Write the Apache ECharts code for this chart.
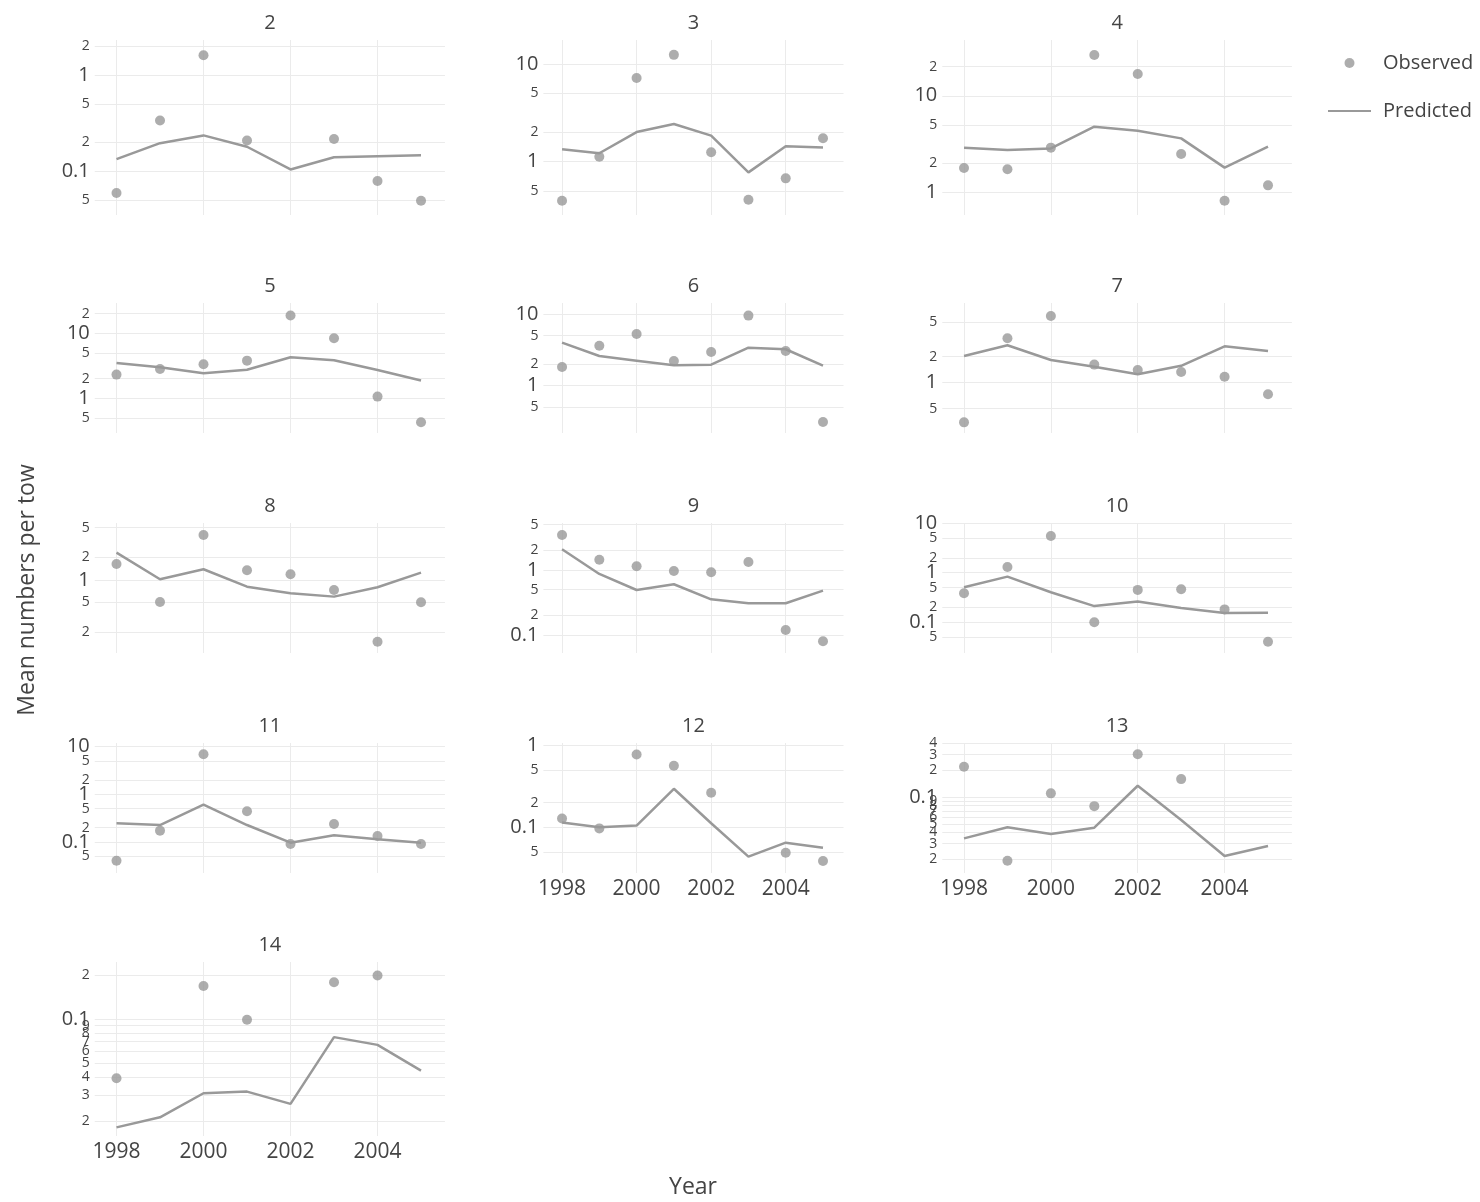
<!DOCTYPE html>
<html><head><meta charset="utf-8">
<script src="https://cdn.jsdelivr.net/npm/echarts@6/dist/echarts.min.js"></script>
<style>html,body{margin:0;padding:0;background:#fff}#c{width:1480px;height:1202px}</style>
</head><body><div id="c"></div>
<script>
// ---------------- DATA ----------------
const years = [1998, 1999, 2000, 2001, 2002, 2003, 2004, 2005];
const panelNames = ['2','3','4','5','6','7','8','9','10','11','12','13','14'];
const xTicks = [1998, 2000, 2002, 2004];

const obs2 = [0.059, 0.336, 1.60, 0.208, null, 0.216, 0.0787, 0.0492];
const pred2 = [0.133, 0.195, 0.235, 0.179, 0.104, 0.139, 0.143, 0.146];
const obs3 = [0.399, 1.125, 7.2, 12.4, 1.25, 0.408, 0.676, 1.735];
const pred3 = [1.34, 1.22, 2.01, 2.43, 1.85, 0.778, 1.44, 1.40];
const obs4 = [1.785, 1.73, 2.90, 26.4, 16.8, 2.49, 0.818, 1.18];
const pred4 = [2.90, 2.74, 2.85, 4.78, 4.34, 3.62, 1.80, 2.97];
const obs5 = [2.31, 2.82, 3.34, 3.79, 18.7, 8.38, 1.06, 0.427];
const pred5 = [3.49, 3.0, 2.43, 2.75, 4.27, 3.84, 2.72, 1.87];
const obs6 = [1.82, 3.61, 5.26, 2.21, 2.95, 9.47, 3.05, 0.312];
const pred6 = [3.98, 2.59, 2.23, 1.92, 1.96, 3.39, 3.22, 1.90];
const obs7 = [0.348, 3.27, 5.92, 1.62, 1.40, 1.33, 1.17, 0.734];
const pred7 = [2.04, 2.71, 1.83, 1.53, 1.25, 1.57, 2.64, 2.33];
const obs8 = [1.63, 0.509, 3.98, 1.35, 1.19, 0.736, 0.150, 0.504];
const pred8 = [2.31, 1.02, 1.39, 0.814, 0.665, 0.599, 0.80, 1.25];
const obs9 = [3.45, 1.44, 1.14, 0.965, 0.922, 1.33, 0.119, 0.080];
const pred9 = [2.08, 0.868, 0.492, 0.603, 0.354, 0.307, 0.307, 0.481];
const obs10 = [0.386, 1.30, 5.5, 0.100, 0.45, 0.464, 0.182, 0.0404];
const pred10 = [0.509, 0.832, 0.404, 0.212, 0.263, 0.194, 0.154, 0.156];
const obs11 = [0.0405, 0.173, 6.9, 0.44, 0.0908, 0.238, 0.134, 0.0908];
const pred11 = [0.246, 0.227, 0.605, 0.227, 0.0968, 0.138, 0.114, 0.097];
const obs12 = [0.128, 0.097, 0.77, 0.561, 0.263, null, 0.049, 0.039];
const pred12 = [0.114, 0.100, 0.105, 0.294, 0.112, 0.044, 0.065, 0.0565];
const obs13 = [0.219, 0.0192, 0.110, 0.079, 0.302, 0.159, null, null];
const pred13 = [0.0343, 0.0457, 0.0384, 0.0452, 0.134, 0.0552, 0.0217, 0.0281];
const obs14 = [0.0393, null, 0.168, 0.0985, null, 0.178, 0.198, null];
const pred14 = [0.0181, 0.0212, 0.031, 0.0318, 0.0262, 0.075, 0.0664, 0.0443];

const yTicks2 = [0.05, 0.1, 0.2, 0.5, 1, 2];       const yLabels2 = ['5','0.1','2','5','1','2'];
const yTicks3 = [0.5, 1, 2, 5, 10];                const yLabels3 = ['5','1','2','5','10'];
const yTicks4 = [1, 2, 5, 10, 20];                 const yLabels4 = ['1','2','5','10','2'];
const yTicks5 = [0.5, 1, 2, 5, 10, 20];            const yLabels5 = ['5','1','2','5','10','2'];
const yTicks6 = [0.5, 1, 2, 5, 10];                const yLabels6 = ['5','1','2','5','10'];
const yTicks7 = [0.5, 1, 2, 5];                    const yLabels7 = ['5','1','2','5'];
const yTicks8 = [0.2, 0.5, 1, 2, 5];               const yLabels8 = ['2','5','1','2','5'];
const yTicks9 = [0.1, 0.2, 0.5, 1, 2, 5];          const yLabels9 = ['0.1','2','5','1','2','5'];
const yTicks10 = [0.05, 0.1, 0.2, 0.5, 1, 2, 5, 10]; const yLabels10 = ['5','0.1','2','5','1','2','5','10'];
const yTicks11 = [0.05, 0.1, 0.2, 0.5, 1, 2, 5, 10]; const yLabels11 = ['5','0.1','2','5','1','2','5','10'];
const yTicks12 = [0.05, 0.1, 0.2, 0.5, 1];         const yLabels12 = ['5','0.1','2','5','1'];
const yTicks13 = [0.02,0.03,0.04,0.05,0.06,0.07,0.08,0.09,0.1,0.2,0.3,0.4];
const yLabels13 = ['2','3','4','5','6','7','8','9','0.1','2','3','4'];
const yTicks14 = [0.02,0.03,0.04,0.05,0.06,0.07,0.08,0.09,0.1,0.2];
const yLabels14 = ['2','3','4','5','6','7','8','9','0.1','2'];

const obsList = [obs2,obs3,obs4,obs5,obs6,obs7,obs8,obs9,obs10,obs11,obs12,obs13,obs14];
const predList = [pred2,pred3,pred4,pred5,pred6,pred7,pred8,pred9,pred10,pred11,pred12,pred13,pred14];
const tickList = [yTicks2,yTicks3,yTicks4,yTicks5,yTicks6,yTicks7,yTicks8,yTicks9,yTicks10,yTicks11,yTicks12,yTicks13,yTicks14];
const labelList = [yLabels2,yLabels3,yLabels4,yLabels5,yLabels6,yLabels7,yLabels8,yLabels9,yLabels10,yLabels11,yLabels12,yLabels13,yLabels14];

// ---------------- LAYOUT ----------------
const FONT = '"Open Sans", "DejaVu Sans", sans-serif';
const TXT = '#444';
const GRIDC = '#ebebeb';
const GRAY = '#999999';
const colBox = [[94.75, 350.2], [543.4, 300.1], [942.3, 349.6]];
const rowBox = [[40, 175], [303, 130], [523, 130], [743, 130], [962, 174]];
const yRange = [[0.0349,2.31],[0.285,17.6],[0.582,37.8],[0.292,29.2],[0.219,14.2],[0.262,8.36],
  [0.106,5.75],[0.0528,5.28],[0.024,10.05],[0.0224,11.9],[0.0278,1.06],[0.014,0.405],[0.0158,0.245]];
const xLabelPanels = [10, 11, 12];

const grids = [], xAxes = [], yAxes = [], series = [], titles = [];
panelNames.forEach((name, k) => {
  const row = Math.floor(k / 3), col = k % 3;
  const [left, width] = colBox[col];
  const [top, height] = rowBox[row];
  grids.push({left: left, top: top, width: width, height: height});
  titles.push({text: name, left: left + width / 2, top: top - 27, textAlign: 'center', padding: 0,
    textStyle: {fontSize: 20, fontWeight: 'normal', color: TXT, fontFamily: FONT}});
  xAxes.push({type: 'value', gridIndex: k, min: 1997.5, max: 2005.55,
    axisLine: {show: false}, axisTick: {show: false, customValues: xTicks},
    splitLine: {show: true, lineStyle: {color: GRIDC, width: 1}},
    axisLabel: {show: xLabelPanels.includes(k), customValues: xTicks, margin: 6,
      showMinLabel: true, showMaxLabel: true,
      color: TXT, fontSize: 21, fontFamily: FONT, formatter: v => String(v)}});
  const ticks = tickList[k], labs = labelList[k];
  yAxes.push({type: 'log', gridIndex: k, min: yRange[k][0], max: yRange[k][1],
    axisLine: {show: false}, axisTick: {show: false}, splitLine: {show: false},
    axisLabel: {show: false}});
  const o = obsList[k], p = predList[k];
  series.push({name: 'Observed', type: 'scatter', xAxisIndex: k, yAxisIndex: k, symbol: 'circle', symbolSize: 10,
    itemStyle: {color: GRAY}, z: 3, data: years.map((y, i) => [y, o[i]]).filter(d => d[1] !== null)});
  series.push({name: 'Predicted', type: 'line', xAxisIndex: k, yAxisIndex: k, symbol: 'none', showSymbol: false,
    lineStyle: {color: GRAY, width: 2.5}, itemStyle: {color: GRAY}, z: 3,
    data: years.map((y, i) => [y, p[i]]),
    markLine: {silent: true, symbol: ['none', 'none'], animation: false, z: 1,
      lineStyle: {color: GRIDC, width: 1, type: 'solid'},
      emphasis: {disabled: true},
      label: {show: true, position: 'start', distance: 5, color: TXT, fontFamily: FONT,
        formatter: function (pr) {
          const lab = labs[pr.dataIndex];
          const major = (lab === '0.1' || lab === '1' || lab === '10');
          return (major ? '{a|' : '{b|') + lab + '}';
        },
        rich: {a: {fontSize: 20, color: TXT, fontFamily: FONT}, b: {fontSize: 14, color: TXT, fontFamily: FONT}}},
      data: ticks.map(t => ({yAxis: t}))}});
});

const chart = echarts.init(document.getElementById('c'), null, {renderer: 'canvas'});
chart.setOption({
  animation: false,
  backgroundColor: '#fff',
  title: titles,
  grid: grids, xAxis: xAxes, yAxis: yAxes, series: series,
  legend: {data: [{name: 'Observed'}, {name: 'Predicted', itemStyle: {opacity: 0}}],
    orient: 'vertical', left: 1327, top: 53,
    itemWidth: 43, itemHeight: 10, itemGap: 28, padding: 0,
    textStyle: {fontSize: 20, color: TXT, fontFamily: FONT, padding: [0, 0, 0, 7]}},
  graphic: [
    {type: 'text', x: 27, y: 590, rotation: Math.PI / 2,
      style: {text: 'Mean numbers per tow', fontSize: 23, fill: TXT, fontFamily: FONT, align: 'center', verticalAlign: 'middle'}},
    {type: 'text', x: 693, y: 1187,
      style: {text: 'Year', fontSize: 23, fill: TXT, fontFamily: FONT, align: 'center', verticalAlign: 'middle'}}
  ]
});
</script></body></html>
